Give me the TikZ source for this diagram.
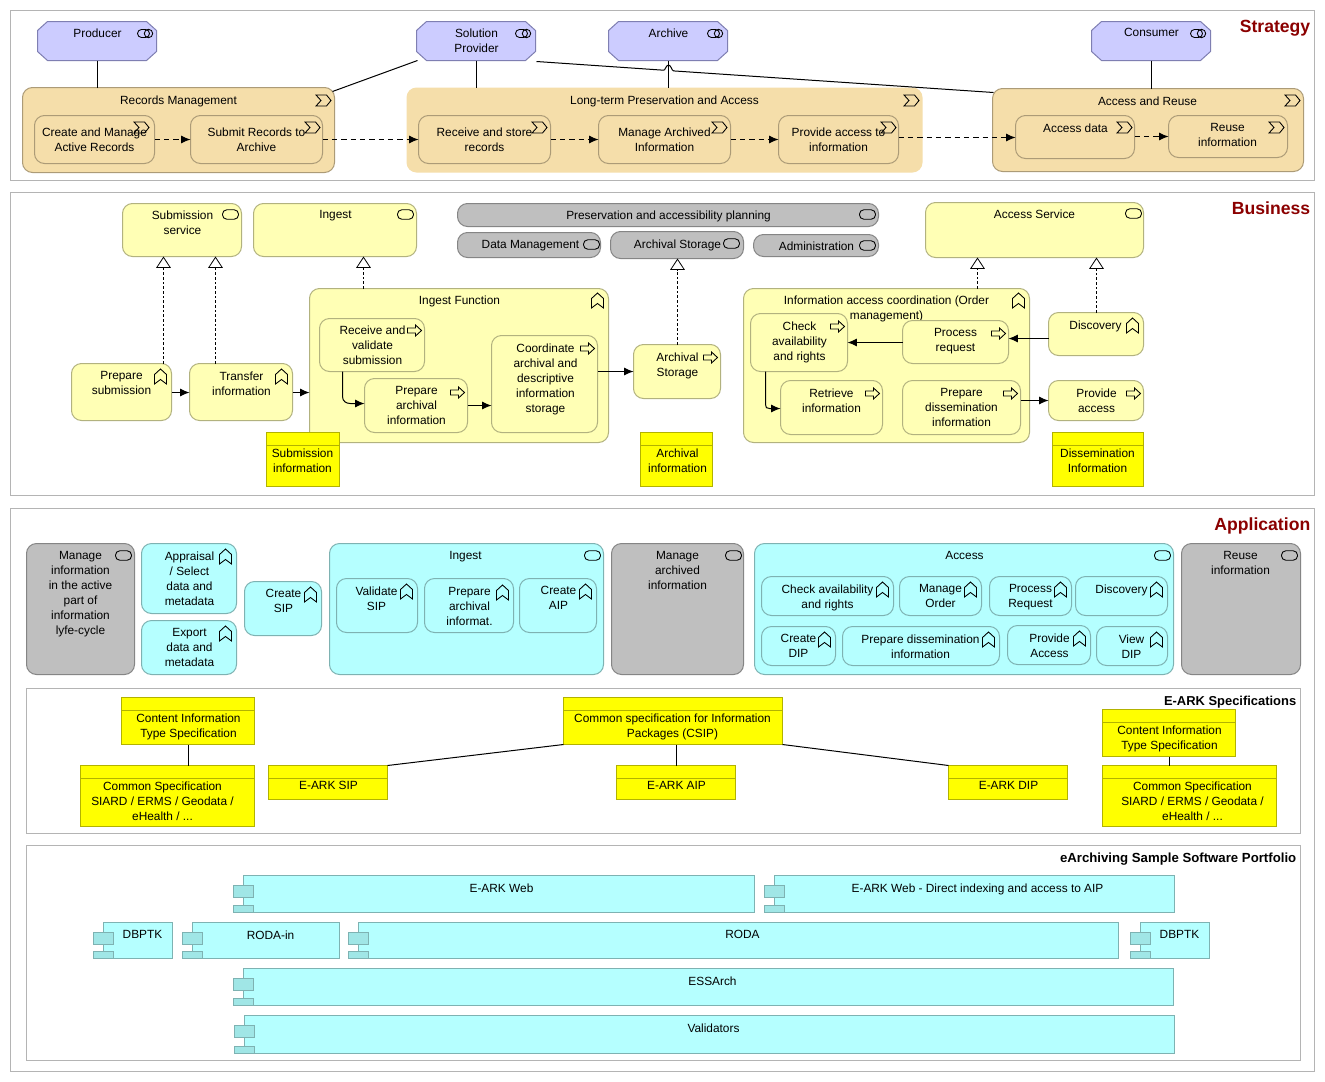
\documentclass[tikz,border=0pt]{standalone}
\usepackage{fontspec}
\setmainfont{Liberation Sans}
\usetikzlibrary{arrows.meta}
\definecolor{actF}{HTML}{CCCCFF}\definecolor{actD}{HTML}{7F7FB2}
\definecolor{valF}{HTML}{F5DEAA}\definecolor{valD}{HTML}{AC9B77}
\definecolor{busF}{HTML}{FFFFB5}\definecolor{busD}{HTML}{B2B27F}
\definecolor{gryF}{HTML}{BFBFBF}\definecolor{gryD}{HTML}{858585}
\definecolor{appF}{HTML}{B5FFFF}\definecolor{appD}{HTML}{7EB2B2}
\definecolor{cmpF}{HTML}{A0E6E6}
\definecolor{dobF}{HTML}{FFFF00}\definecolor{dobD}{HTML}{B2B200}
\definecolor{panD}{HTML}{B4B4B4}\definecolor{ttlC}{HTML}{8B0000}
\tikzset{
 base/.style={inner sep=0pt,outer sep=0pt,line width=.75pt},
 actorbox/.style={base,rectangle},
 valuebox/.style={base,rectangle,rounded corners=7.5pt,fill=valF,draw=valD},
 valuepale/.style={base,rectangle,rounded corners=7.5pt,fill=valF},
 busbox/.style={base,rectangle,rounded corners=7.5pt,fill=busF,draw=busD},
 greybox/.style={base,rectangle,rounded corners=7.5pt,fill=gryF,draw=gryD},
 appbox/.style={base,rectangle,rounded corners=7.5pt,fill=appF,draw=appD},
 objbox/.style={base,rectangle,fill=dobF,draw=dobD},
 compbox/.style={base,rectangle,fill=appF,draw=appD},
 panel/.style={base,rectangle,draw=panD,fill=white},
 lbl/.style={inner sep=0pt,outer sep=0pt,align=center,font=\fontsize{8.9}{11.25}\selectfont,text=black},
 paneltitle/.style={inner sep=0pt,anchor=base east,font=\fontsize{13.2}{15}\selectfont\bfseries,text=ttlC},
 subtitle/.style={inner sep=0pt,anchor=base east,font=\fontsize{9.7}{12}\selectfont\bfseries,text=black},
 assoc/.style={line width=.75pt,draw=black},
 flowline/.style={line width=.75pt,draw=black,-{Latex[length=7pt,width=6pt]}},
 trig/.style={line width=.75pt,draw=black,dash pattern=on 4pt off 3pt,-{Latex[length=7pt,width=6pt]}},
 realiz/.style={line width=.6pt,draw=black,dash pattern=on 2pt off 1.5pt,-{Triangle[open,fill=white,length=8.5pt,width=11pt]}},
 icn/.style={line width=.65pt,draw=black},
 rolei/.pic={\draw[icn,rounded corners=3pt] (-8,-4) rectangle (4,4);\draw[icn] (3,0) circle [radius=4.2];},
 svci/.pic={\draw[icn,rounded corners=3.2pt] (-8,-4.7) rectangle (8,4.7);},
 funci/.pic={\draw[icn,line join=miter] (-6,7.5)--(-6,-2)--(0,-7.5)--(6,-2)--(6,7.5)--(0,3)--cycle;},
 proci/.pic={\draw[icn,line join=miter] (-7,-2.5)--(1,-2.5)--(1,-5.5)--(7,0)--(1,5.5)--(1,2.5)--(-7,2.5)--cycle;},
 vali/.pic={\draw[icn,line join=miter] (-7.5,-5.5)--(3,-5.5)--(7.5,0)--(3,5.5)--(-7.5,5.5)--(-2.5,0)--cycle;},
}
\newcommand\el[9]{%
 \pgfmathsetmacro\elW{(#5-#3-1)*0.75}\pgfmathsetmacro\elH{(#6-#4-1)*0.75}%
 \node[#1,minimum width=\elW pt,minimum height=\elH pt] (#2) at ({(#3+#5-1)/2},{(#4+#6-1)/2}) {};
 \node[lbl,anchor=north] (#2-t) at (#7,#8-5) {#9};}
\newcommand\dobj[9]{%
 \el{objbox}{#1}{#2}{#3}{#4}{#5}{#7}{#8}{#9}
 \draw[line width=.75pt,draw=dobD] (#2,#6) -- (#4-1,#6);}
\newcommand\actorel[8]{%
 \filldraw[line width=.75pt,fill=actF,draw=actD] (#2+10,#3)--(#4-11,#3)--(#4-1,#3+9)--(#4-1,#5-10)--(#4-11,#5-1)--(#2+10,#5-1)--(#2,#5-10)--(#2,#3+9)--cycle;
 \el{actorbox}{#1}{#2}{#3}{#4}{#5}{#6}{#7}{#8}}
\newcommand\comp[7]{% name x1 y1 x2 y2 cx text
 \el{compbox}{#1}{#2}{#3}{#4}{#5}{#6}{#3+13}{#7}
 \draw[line width=.75pt,draw=appD] (#2,#3+16) -- (#2,#5-1);
 \draw[line width=.75pt,draw=appD,fill=cmpF] (#2-10,#3+10) rectangle (#2+10,#3+22);
 \draw[line width=.75pt,draw=appD,fill=cmpF] (#2-10,#5-8) rectangle (#2+10,#5-1);}
\begin{document}
\begin{tikzpicture}[x=0.75pt,y=-0.75pt]
\useasboundingbox (0,0) rectangle (1325,1082);
\fill[white] (0,0) rectangle (1325,1082);
\begin{scope}[shift={(0.5,0.5)}]
% panels
\node[panel,minimum width=978pt,minimum height=127.5pt,anchor=north west] (pStrategy) at (10,10) {};
\node[panel,minimum width=978pt,minimum height=227.25pt,anchor=north west] (pBusiness) at (10,192) {};
\node[panel,minimum width=978pt,minimum height=422.25pt,anchor=north west] (pApplication) at (10,508) {};
\node[paneltitle] (tStrategy) at (1310,32) {Strategy};
\node[paneltitle] (tBusiness) at (1310,214) {Business};
\node[paneltitle] (tApplication) at (1310,530) {Application};
\node[panel,minimum width=955.5pt,minimum height=108.75pt,anchor=north west] (pSpec) at (26,688) {};
\node[panel,minimum width=955.5pt,minimum height=161.25pt,anchor=north west] (pPort) at (26,845) {};
\node[subtitle] (tSpec) at (1296,705) {E-ARK Specifications};
\node[subtitle,font=\fontsize{9.9}{12}\selectfont\bfseries] (tPort) at (1296,862) {eArchiving Sample Software Portfolio};
% strategy
\actorel{producer}{37}{21}{157}{61}{97}{33}{Producer}
\actorel{solprov}{416}{21}{536}{61}{476}{33}{Solution\\Provider}
\actorel{archive}{608}{21}{728}{61}{668}{33}{Archive}
\actorel{consumer}{1091}{21}{1211}{61}{1151}{33}{Consumer}
\pic at (145,33) {rolei};\pic at (523,33) {rolei};\pic at (715,33) {rolei};\pic at (1198,33) {rolei};
\el{valuebox}{recman}{22}{87}{335}{173}{178}{100}{Records Management}
\el{valuebox}{createman}{34}{115}{155}{164}{94}{132}{Create and Manage\\Active Records}
\el{valuebox}{submit}{190}{115}{323}{164}{256}{132}{Submit Records to\\Archive}
\el{valuepale}{longterm}{406}{87}{923}{173}{664}{100}{Long-term Preservation and Access}
\el{valuebox}{recstore}{418}{115}{551}{164}{484}{132}{Receive and store\\records}
\el{valuebox}{managearch}{598}{115}{731}{164}{664}{132}{Manage Archived\\Information}
\el{valuebox}{provacc}{778}{115}{899}{164}{838}{132}{Provide access to\\information}
\el{valuebox}{accreuse}{992}{88}{1304}{172}{1147}{101}{Access and Reuse}
\el{valuebox}{accdata}{1015}{115}{1135}{159}{1075}{128}{Access data}
\el{valuebox}{reuseinf}{1168}{115}{1288}{158}{1227}{128}{Reuse\\information}
\pic at (323,100) {vali};\pic at (141,127) {vali};\pic at (312,127) {vali};\pic at (911,100) {vali};
\pic at (539,127) {vali};\pic at (719,127) {vali};\pic at (888,127) {vali};\pic at (1292,100) {vali};
\pic at (1124,127) {vali};\pic at (1276,127) {vali};
\draw[assoc] (producer.south -| 97,0) -- (recman.north -| 97,0);
\draw[assoc] (solprov.south -| 476,0) -- (longterm.north -| 476,0);
\draw[assoc] (archive.south -| 668,0) -- (longterm.north -| 668,0);
\draw[assoc] (consumer.south -| 1151,0) -- (accreuse.north -| 1151,0);
\coordinate (spA) at (417,60);\coordinate (rmA) at (332,91);
\coordinate (spB) at (536,61);\coordinate (arA) at (993,92);
\draw[assoc] (spA) -- (rmA);
\draw[assoc] (spB) -- (663,69.7) .. controls (665,70) and (665,65) .. (668,64.5) .. controls (671,65) and (671,70) .. (673,70.4) -- (arA);
\draw[trig] (createman.east |- 0,139) -- (submit.west |- 0,139);
\draw[trig] (submit.east |- 0,139) -- (recstore.west |- 0,139);
\draw[trig] (recstore.east |- 0,139) -- (managearch.west |- 0,139);
\draw[trig] (managearch.east |- 0,139) -- (provacc.west |- 0,139);
\draw[trig] (provacc.east |- 0,137) -- (accdata.west |- 0,137);
\draw[trig] (accdata.east |- 0,136) -- (reuseinf.west |- 0,136);
% business
\el{busbox}{subserv}{122}{203}{242}{257}{182}{215}{Submission\\service}
\el{busbox}{ingserv}{253}{203}{417}{257}{335}{215}{Ingest}
\el{greybox}{presplan}{457}{203}{879}{227}{668}{215}{Preservation and accessibility planning}
\el{greybox}{datamgmt}{457}{232}{601}{258}{530}{245}{Data Management}
\el{greybox}{archstor}{610}{231}{744}{259}{677}{244}{Archival Storage}
\el{greybox}{admin}{753}{234}{879}{257}{816}{246}{Administration}
\el{busbox}{accserv}{925}{202}{1144}{258}{1034}{214}{Access Service}
\pic at (230,214) {svci};\pic at (405,214) {svci};\pic at (867,214) {svci};\pic at (591,244) {svci};
\pic at (731,243) {svci};\pic at (867,245) {svci};\pic at (1133,213) {svci};
\el{busbox}{prepsub}{71}{363}{172}{421}{121}{376}{Prepare\\submission}
\el{busbox}{transfer}{189}{363}{293}{421}{241}{376}{Transfer\\information}
\el{busbox}{ingfunc}{309}{288}{609}{443}{459}{300}{Ingest Function}
\el{busbox}{recval}{319}{318}{425}{372}{372}{330}{Receive and\\validate\\submission}
\el{busbox}{preparch}{364}{378}{468}{433}{416}{391}{Prepare\\archival\\information}
\el{busbox}{coord}{491}{335}{598}{433}{545}{348}{Coordinate\\archival and\\descriptive\\information\\storage}
\el{busbox}{archproc}{633}{344}{721}{399}{677}{357}{Archival\\Storage}
\el{busbox}{infacc}{743}{288}{1030}{443}{886}{300}{Information access coordination (Order\\management)}
\el{busbox}{checkav}{750}{313}{848}{372}{799}{326}{Check\\availability\\and rights}
\el{busbox}{procreq}{902}{320}{1009}{364}{955}{333}{Process\\request}
\el{busbox}{retrieve}{780}{380}{883}{435}{831}{393}{Retrieve\\information}
\el{busbox}{prepdiss}{902}{380}{1021}{435}{961}{393}{Prepare\\dissemination\\information}
\el{busbox}{discov}{1048}{312}{1144}{356}{1095}{325}{Discovery}
\el{busbox}{provacb}{1048}{380}{1144}{421}{1096}{393}{Provide\\access}
\pic at (160,376) {funci};\pic at (281,376) {funci};\pic at (597,300) {funci};\pic at (1018,300) {funci};\pic at (1132,325) {funci};
\pic at (414,330) {proci};\pic at (457,392) {proci};\pic at (587,348) {proci};\pic at (710,357) {proci};
\pic at (837,326) {proci};\pic at (998,333) {proci};\pic at (872,393) {proci};\pic at (1010,393) {proci};\pic at (1133,393) {proci};
\dobj{subinfo}{266}{432}{340}{487}{445}{302}{453}{Submission\\information}
\dobj{archinfo}{640}{432}{713}{487}{445}{677}{453}{Archival\\information}
\dobj{dissinfo}{1052}{432}{1144}{487}{445}{1097}{453}{Dissemination\\Information}
\draw[realiz] (prepsub.north -| 163,0) -- (subserv.south -| 163,0);
\draw[realiz] (transfer.north -| 215,0) -- (subserv.south -| 215,0);
\draw[realiz] (ingfunc.north -| 363,0) -- (ingserv.south -| 363,0);
\draw[realiz] (archproc.north -| 677,0) -- (archstor.south -| 677,0);
\draw[realiz] (infacc.north -| 977,0) -- (accserv.south -| 977,0);
\draw[realiz] (discov.north -| 1096,0) -- (accserv.south -| 1096,0);
\draw[flowline] (prepsub.east |- 0,392) -- (transfer.west |- 0,392);
\draw[flowline] (transfer.east |- 0,392) -- (ingfunc.west |- 0,392);
\draw[flowline] (recval.south -| 342,0) -- (342,396) .. controls (342,401) and (346,403) .. (350,403) -- (preparch.west |- 0,403);
\draw[flowline] (preparch.east |- 0,405) -- (coord.west |- 0,405);
\draw[flowline] (coord.east |- 0,371) -- (archproc.west |- 0,371);
\draw[flowline] (procreq.west |- 0,342) -- (checkav.east |- 0,342);
\draw[flowline] (discov.west |- 0,338) -- (procreq.east |- 0,338);
\draw[flowline] (checkav.south -| 765,0) -- (765,404) .. controls (765,407) and (766,408) .. (769,408) -- (retrieve.west |- 0,408);
\draw[flowline] (prepdiss.east |- 0,400) -- (provacb.west |- 0,400);
% application
\el{greybox}{manageinfo}{26}{543}{135}{675}{80}{556}{Manage\\information\\in the active\\part of\\information\\lyfe-cycle}
\el{appbox}{appraisal}{141}{543}{237}{614}{189}{556}{Appraisal\\/ Select\\data and\\metadata}
\el{appbox}{exportd}{141}{620}{237}{675}{189}{633}{Export\\data and\\metadata}
\el{appbox}{createsip}{244}{581}{322}{636}{283}{594}{Create\\SIP}
\el{appbox}{ingapp}{329}{543}{604}{675}{465}{556}{Ingest}
\el{appbox}{valsip}{336}{578}{418}{633}{376}{591}{Validate\\SIP}
\el{appbox}{preparchb}{424}{578}{514}{633}{469}{592}{Prepare\\archival\\informat.}
\el{appbox}{createaip}{519}{578}{597}{633}{558}{591}{Create\\AIP}
\el{greybox}{managearchb}{611}{543}{744}{675}{677}{556}{Manage\\archived\\information}
\el{appbox}{accapp}{754}{543}{1174}{675}{964}{556}{Access}
\el{appbox}{checkb}{761}{576}{894}{616}{827}{589}{Check availability\\and rights}
\el{appbox}{manord}{899}{576}{982}{616}{940}{589}{Manage\\Order}
\el{appbox}{procb}{989}{576}{1072}{616}{1030}{589}{Process\\Request}
\el{appbox}{discb}{1075}{576}{1168}{616}{1121}{589}{Discovery}
\el{appbox}{createdip}{761}{626}{836}{666}{798}{639}{Create\\DIP}
\el{appbox}{prepdissb}{842}{626}{1000}{666}{920}{639}{Prepare dissemination\\information}
\el{appbox}{provb}{1007}{625}{1091}{665}{1049}{638}{Provide\\Access}
\el{appbox}{viewdip}{1096}{626}{1168}{666}{1131}{639}{View\\DIP}
\el{greybox}{reuseb}{1181}{543}{1301}{675}{1240}{556}{Reuse\\information}
\pic at (123,555) {svci};\pic at (592,555) {svci};\pic at (733,555) {svci};\pic at (1162,555) {svci};\pic at (1289,555) {svci};
\pic at (225,556) {funci};\pic at (225,633) {funci};\pic at (310,594) {funci};\pic at (406,591) {funci};\pic at (502,592) {funci};\pic at (585,591) {funci};
\pic at (882,589) {funci};\pic at (970,589) {funci};\pic at (1060,589) {funci};\pic at (1156,589) {funci};
\pic at (824,639) {funci};\pic at (988,639) {funci};\pic at (1079,638) {funci};\pic at (1156,639) {funci};
% specs
\dobj{citL}{121}{697}{255}{745}{710}{188}{718}{Content Information\\Type Specification}
\dobj{csL}{80}{765}{255}{827}{778}{162}{786}{Common Specification\\SIARD / ERMS / Geodata /\\eHealth / ...}
\dobj{csip}{563}{697}{783}{745}{710}{672}{718}{Common specification for Information\\Packages (CSIP)}
\dobj{esip}{268}{765}{388}{800}{778}{328}{786}{E-ARK SIP}
\dobj{eaip}{616}{765}{736}{800}{778}{676}{786}{E-ARK AIP}
\dobj{edip}{948}{765}{1068}{800}{778}{1008}{786}{E-ARK DIP}
\dobj{citR}{1102}{709}{1236}{757}{722}{1169}{730}{Content Information\\Type Specification}
\dobj{csR}{1102}{765}{1277}{827}{778}{1192}{786}{Common Specification\\SIARD / ERMS / Geodata /\\eHealth / ...}
\draw[assoc] (citL.south -| 188,0) -- (csL.north -| 188,0);
\draw[assoc] (csip.south west) -- (esip.north east);
\draw[assoc] (csip.south -| 676,0) -- (eaip.north -| 676,0);
\draw[assoc] (csip.south east) -- (edip.north west);
\draw[assoc] (citR.south -| 1169,0) -- (csR.north -| 1169,0);
% portfolio
\comp{ewebA}{243}{875}{755}{913}{501}{E-ARK Web}
\comp{ewebB}{774}{875}{1175}{913}{977}{E-ARK Web - Direct indexing and access to AIP}
\comp{dbptkL}{103}{922}{173}{959}{142}{DBPTK}
\comp{rodain}{192}{922}{340}{959}{270}{RODA-in}
\comp{roda}{358}{922}{1119}{959}{742}{RODA}
\comp{dbptkR}{1140}{922}{1210}{959}{1179}{DBPTK}
\comp{essarch}{243}{968}{1174}{1006}{712}{ESSArch}
\comp{validators}{244}{1015}{1175}{1054}{713}{Validators}
\end{scope}
\end{tikzpicture}
\end{document}
